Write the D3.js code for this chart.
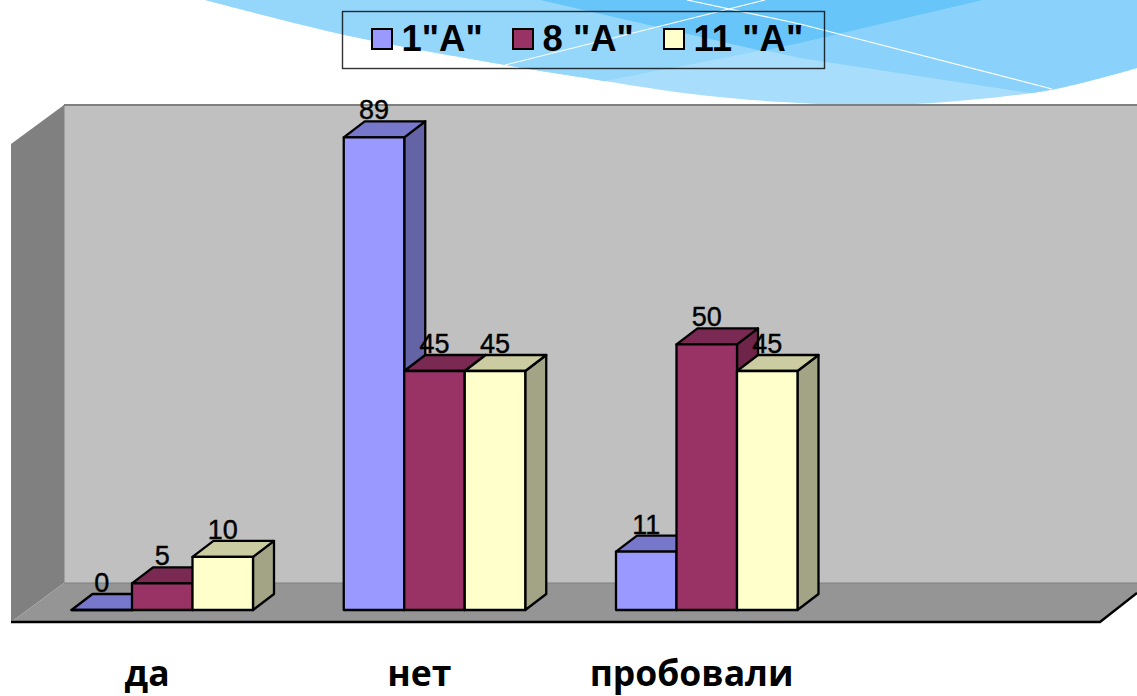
<!DOCTYPE html>
<html>
<head>
<meta charset="utf-8">
<script src="https://cdn.jsdelivr.net/npm/d3@7"></script>
<style>
  html, body { margin: 0; padding: 0; background: #fff; }
  svg { display: block; }
  text { font-family: "Liberation Sans", Arial, sans-serif; fill: #000; }
  .tick text { font-family: "Open Sans", sans-serif; font-weight: 700; }
</style>
</head>
<body>
<svg id="chart" width="1137" height="696"></svg>
<script>
  var categories = ['да', 'нет', 'пробовали', ' '];
  var seriesNames = ['1"А"', '8 "А"', '11 "А"'];
  var firstClass = [0, 89, 11];
  var eighthClass = [5, 45, 50];
  var eleventhClass = [10, 45, 45];
  var seriesValues = [firstClass, eighthClass, eleventhClass];

  var seriesColors = ['#9999ff', '#993366', '#ffffcc'];
  var topColors = ['#7777cc', '#7a2952', '#cccca3'];
  var sideColors = ['#6363a6', '#6f2549', '#a3a385'];

  var svg = d3.select('#chart');

  // depth of the 3d effect
  var wallDx = 53, wallDy = 39;
  var barDx = 21, barDy = 16;

  var x0 = d3.scaleBand().domain(categories).range([11, 1100]);
  var x1 = d3.scaleBand().domain(d3.range(seriesNames.length)).range([60.5, 242]);
  var y = d3.scaleLinear().domain([0, 90]).range([610, 132]);

  var poly = function(pts) { return 'M' + pts.join('L') + 'Z'; };

  ////////////////
  // Background //
  ////////////////

  var wave = d3.line().curve(d3.curveCatmullRom);
  var outerEdge = [[205, 0], [350, 36], [500, 64], [567, 75], [700, 95], [800, 103], [870, 105], [933, 103], [1050, 90], [1137, 68]];

  svg.append('clipPath')
    .attr('id', 'waveClip')
    .append('path')
      .attr('d', wave(outerEdge) + 'L1137,0Z');

  var bg = svg.append('g').attr('clip-path', 'url(#waveClip)');

  bg.append('rect')
    .attr('width', 1137).attr('height', 110)
    .attr('fill', '#a8ddfc');
  // the two overlapping sweeps, and where they cross
  bg.append('path')
    .attr('fill', '#8ad2fb')
    .attr('d', poly([[540, 0], [800, 58], [1030, 93], [1137, 110], [1137, 0]]));
  bg.append('path')
    .attr('fill', '#95d7fb')
    .attr('d', poly([[0, 0], [983, 0], [800, 43], [610, 80], [400, 125], [0, 125]]));
  bg.append('path')
    .attr('fill', '#68c5f9')
    .attr('d', poly([[540, 0], [762, 51], [800, 43], [983, 0]]));
  svg.append('path')
    .attr('fill', 'none').attr('stroke', '#fff').attr('stroke-width', 1.2)
    .attr('d', 'M505,65L765,0M687,0L800,24L1052,89');

  ///////////
  // Walls //
  ///////////

  var left = 11, right = 1100, front = 622, wallTop = 144;
  var walls = svg.append('g');

  walls.append('path')
    .attr('fill', '#c0c0c0')
    .attr('d', poly([[left + wallDx, wallTop - wallDy], [1137, wallTop - wallDy], [1137, front - wallDy], [left + wallDx, front - wallDy]]));
  walls.append('path')
    .attr('fill', '#808080')
    .attr('d', poly([[left, wallTop], [left + wallDx, wallTop - wallDy], [left + wallDx, front - wallDy], [left, front]]));
  walls.append('path')
    .attr('fill', '#959595')
    .attr('d', poly([[left, front], [left + wallDx, front - wallDy], [1137, front - wallDy], [1137, front - 29], [right, front]]));
  walls.append('path')
    .attr('fill', 'none').attr('stroke', '#808080').attr('stroke-width', 2)
    .attr('d', 'M' + [[left + wallDx, wallTop - wallDy], [1137, wallTop - wallDy]].join('L'));
  walls.append('path')
    .attr('fill', 'none').attr('stroke', '#808080').attr('stroke-width', 1)
    .attr('d', 'M' + [[left + wallDx, wallTop - wallDy], [left + wallDx, front - wallDy], [1137, front - wallDy]].join('L'));
  walls.append('path')
    .attr('fill', 'none').attr('stroke', '#000').attr('stroke-width', 2.4)
    .attr('d', 'M' + [[left, front], [right, front], [1137, front - 29]].join('L'));

  //////////
  // Bars //
  //////////

  var bars = [];
  categories.slice(0, 3).forEach(function(cat, c) {
    seriesNames.forEach(function(name, s) {
      bars.push({cat: cat, s: s, value: seriesValues[s][c]});
    });
  });

  var barG = svg.append('g').selectAll('g')
    .data(bars)
    .enter().append('g')
      .attr('stroke', '#000')
      .attr('stroke-width', 2.3)
      .attr('stroke-linejoin', 'round');

  var xLeft = function(d) { return x0(d.cat) + x1(d.s); };
  var xRight = function(d) { return xLeft(d) + x1.bandwidth(); };

  barG.append('path')
    .attr('fill', function(d) { return sideColors[d.s]; })
    .attr('d', function(d) {
      return poly([[xRight(d), y(d.value)], [xRight(d) + barDx, y(d.value) - barDy], [xRight(d) + barDx, y(0) - barDy], [xRight(d), y(0)]]);
    });
  barG.append('path')
    .attr('fill', function(d) { return topColors[d.s]; })
    .attr('d', function(d) {
      return poly([[xLeft(d), y(d.value)], [xLeft(d) + barDx, y(d.value) - barDy], [xRight(d) + barDx, y(d.value) - barDy], [xRight(d), y(d.value)]]);
    });
  barG.append('path')
    .attr('fill', function(d) { return seriesColors[d.s]; })
    .attr('d', function(d) {
      return poly([[xLeft(d), y(d.value)], [xRight(d), y(d.value)], [xRight(d), y(0)], [xLeft(d), y(0)]]);
    });

  svg.append('g').selectAll('text')
    .data(bars)
    .enter().append('text')
      .attr('x', function(d) { return xLeft(d) + x1.bandwidth() / 2; })
      .attr('y', function(d) { return y(d.value) - barDy - 2; })
      .attr('text-anchor', 'middle')
      .attr('font-size', 27)
      .attr('stroke', '#000')
      .attr('stroke-width', 0.4)
      .text(function(d) { return d.value; });

  ////////////
  // Axis   //
  ////////////

  var axis = svg.append('g')
    .attr('transform', 'translate(0,' + front + ')')
    .call(d3.axisBottom(x0).tickSize(0).tickPadding(39));
  axis.select('.domain').remove();
  axis.selectAll('text').style('font-size', '35.5px');

  ////////////
  // Legend //
  ////////////

  var legendSwatchX = [372, 513, 664];
  var legend = svg.append('g');

  legend.append('rect')
    .attr('x', 342.5).attr('y', 11.5).attr('width', 482).attr('height', 57)
    .attr('fill', 'none').attr('stroke', '#000').attr('stroke-opacity', 0.8).attr('stroke-width', 1.4);

  var item = legend.selectAll('g')
    .data(seriesNames)
    .enter().append('g')
      .attr('transform', function(d, i) { return 'translate(' + legendSwatchX[i] + ',29)'; });
  item.append('rect')
    .attr('width', 20).attr('height', 20)
    .attr('fill', function(d, i) { return seriesColors[i]; })
    .attr('stroke', '#000').attr('stroke-width', 2);
  item.append('text')
    .attr('x', 29.5).attr('y', 22)
    .attr('font-size', 36.5)
    .attr('font-weight', 700)
    .text(function(d) { return d; });
</script>
</body>
</html>
